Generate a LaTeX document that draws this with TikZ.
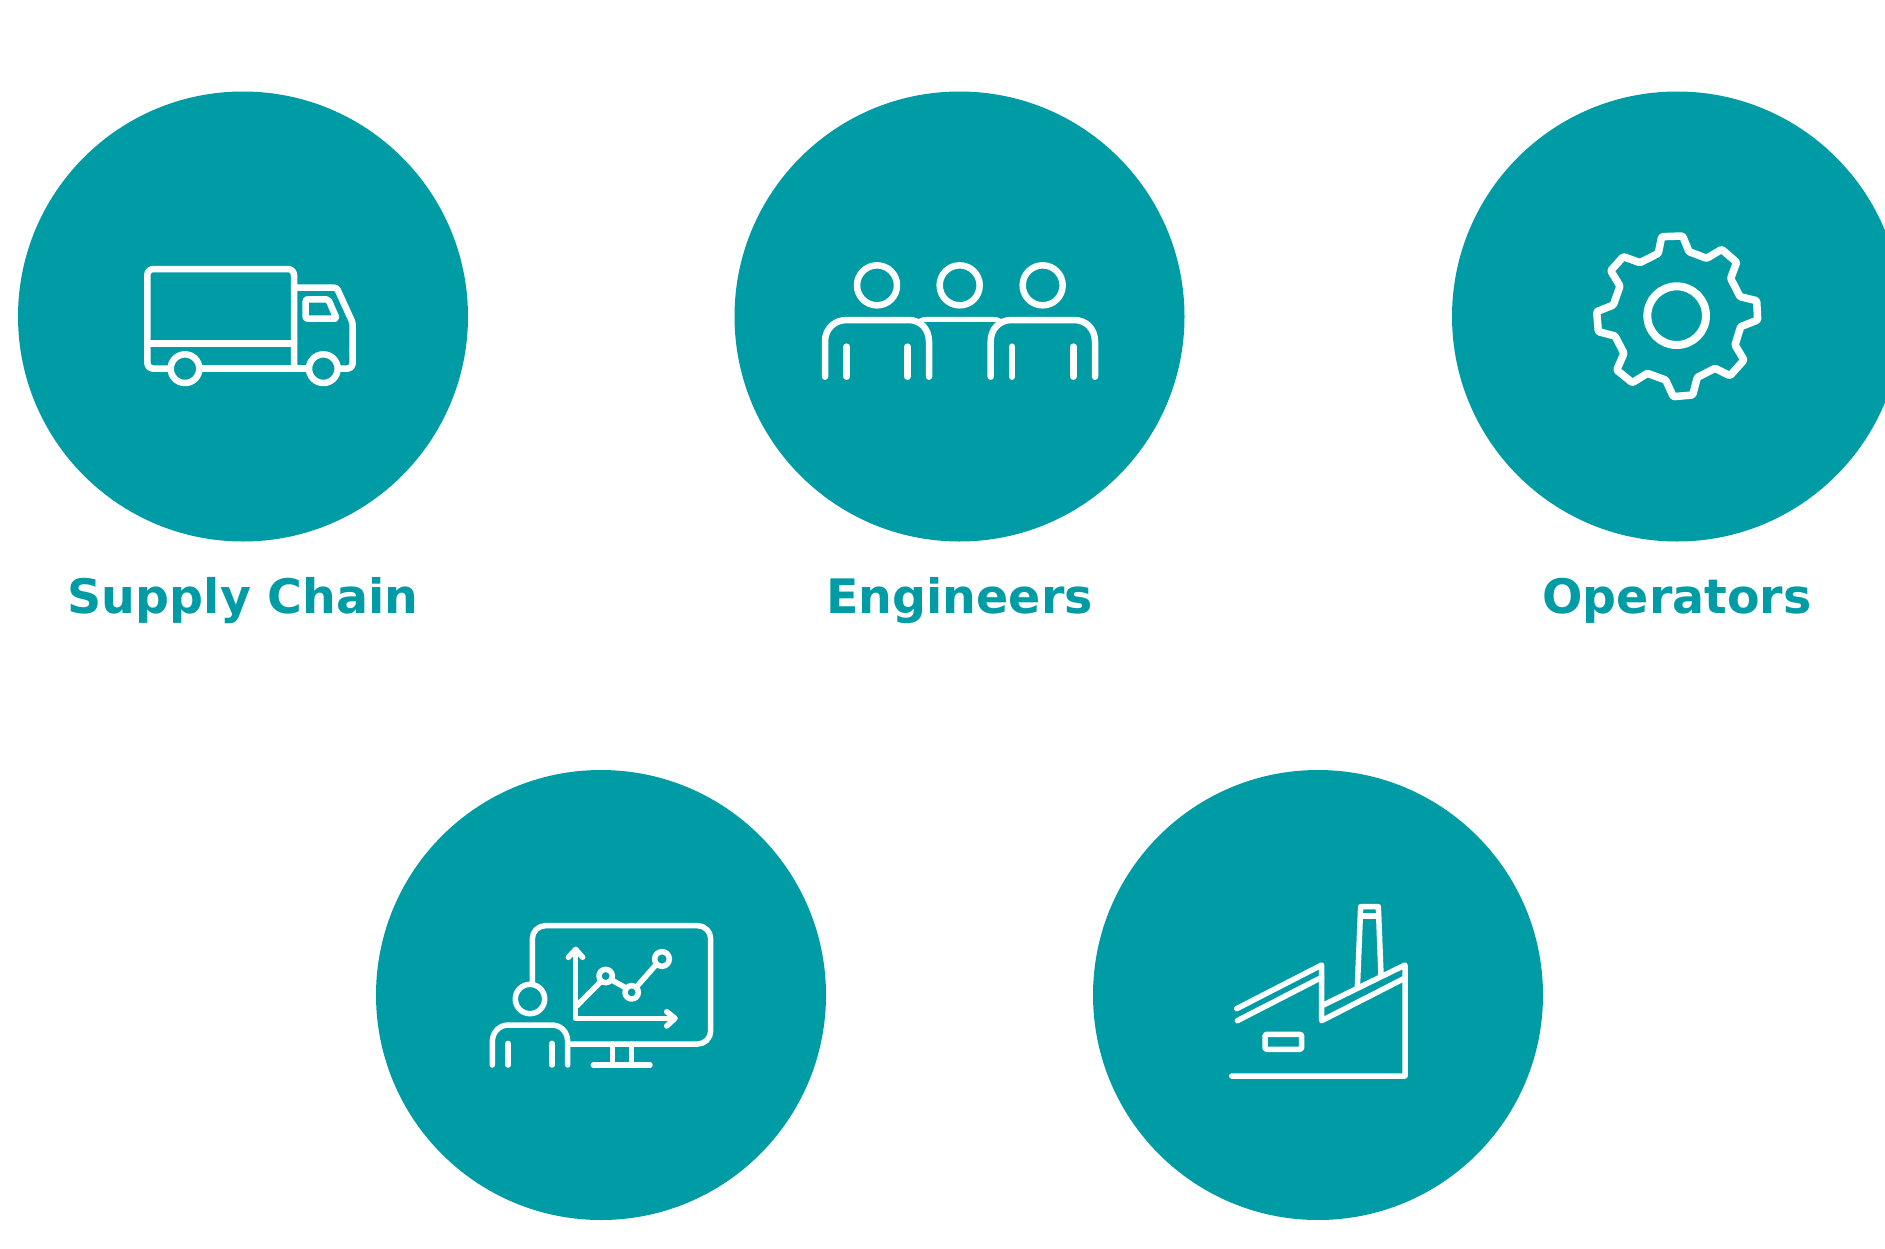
\documentclass[tikz,border=0pt]{standalone}
\usepackage{fontspec}
\setmainfont{DejaVu Sans}
\definecolor{teal1}{RGB}{0,156,166}
\tikzset{
  disc/.style={circle,fill=teal1,inner sep=0pt,minimum size=450pt},
  lab/.style={anchor=base,text=teal1,font=\fontsize{47.5}{50}\selectfont\bfseries},
  ico/.style={draw=white,line width=#1,line cap=round,line join=round},
  ico/.default=6.5pt
}
\begin{document}
\begin{tikzpicture}[x=1pt,y=-1pt]
\useasboundingbox (0,0) rectangle (1885,1248);
\clip (0,0) rectangle (1885,1248);
\fill[white] (0,0) rectangle (1885,1248);
\node[disc] (c1) at (243,316.5) {};
\node[disc] (c2) at (959.5,316.5) {};
\node[disc] (c3) at (1677,316.5) {};
\node[disc] (c4) at (601,995) {};
\node[disc] (c5) at (1318,995) {};
\node[lab] (t1) at (243,613) {Supply Chain};
\node[lab] (t2) at (959.5,613) {Engineers};
\node[lab] (t3) at (1677,613) {Operators};
% truck
\begin{scope}[shift={(120,240)},scale=1/3,ico]
\draw[rounded corners=6pt] (145,386) -- (82,386) -- (82,87) -- (522,87) -- (522,386);
\draw (82,310) -- (522,310);
\draw (245,386) -- (560,386);
\draw[rounded corners=2.5pt] (522,143) -- (650,143) -- (698,248) -- (698,330);
\draw[rounded corners=5pt] (698,330) -- (698,386) -- (660,386);
\draw[rounded corners=2pt] (557,178) -- (625,178) -- (650,236) -- (557,236) -- cycle;
\draw (195,386) circle[radius=43];
\draw (610,386) circle[radius=43];
\end{scope}
% engineers
\begin{scope}[shift={(800,240)},scale=1/3,ico]
\draw (231,136) circle[radius=60];
\draw (479,136) circle[radius=60];
\draw (728,136) circle[radius=60];
\draw (75,410) -- (75,305) .. controls (75,265) and (105,240) .. (140,240) -- (325,240) .. controls (360,240) and (387,265) .. (387,305) -- (387,410);
\draw (572,410) -- (572,305) .. controls (572,265) and (600,240) .. (635,240) -- (822,240) .. controls (857,240) and (885,265) .. (885,305) -- (885,410);
\draw (140,320) -- (140,410);
\draw (322,320) -- (322,410);
\draw (636,320) -- (636,410);
\draw (820,320) -- (820,410);
\draw[line width=5pt] (358,245) .. controls (368,238) and (375,238) .. (385,238) -- (575,238) .. controls (585,238) and (592,238) .. (602,245);
\end{scope}
% gear
\begin{scope}[shift={(1570,210)},scale=1/3,ico=7.5pt]
\draw[rounded corners=1.2pt] (275,80) -- (338,78) -- (357,125) -- (410,145) -- (455,118) -- (500,157) -- (482,205) -- (510,260) -- (560,272) -- (563,330) -- (512,350) -- (495,405) -- (522,450) -- (480,497) -- (435,475) -- (382,502) -- (368,555) -- (310,560) -- (287,510) -- (232,490) -- (187,518) -- (140,480) -- (162,430) -- (135,378) -- (85,365) -- (80,305) -- (130,285) -- (150,228) -- (122,182) -- (160,140) -- (210,158) -- (265,130) -- cycle;
\draw[line width=8pt] (320,317) circle[radius=88];
\end{scope}
% analyst
\begin{scope}[shift={(470,900)},scale=1/3,ico=5.5pt]
\draw (180,297) circle[radius=44];
\draw (67,495) -- (67,425) .. controls (67,395) and (90,375) .. (115,375) -- (245,375) .. controls (272,375) and (293,395) .. (293,425) -- (293,495);
\draw (114,430) -- (114,495);
\draw (246,430) -- (246,495);
\draw[rounded corners=13pt] (187,250) -- (187,77) -- (722,77) -- (722,432) -- (300,432);
\draw (428,432) -- (428,495);
\draw (485,432) -- (485,495);
\draw (370,495) -- (540,495);
\draw (317,150) -- (317,355) -- (612,355);
\draw (295,172) -- (317,148) -- (338,172);
\draw (590,335) -- (615,355) -- (590,378);
\draw (320,318) -- (392,245);
\draw (407,228) circle[radius=20];
\draw (425,240) -- (470,265);
\draw (485,277) circle[radius=20];
\draw (500,260) -- (560,192);
\draw (576,177) circle[radius=22];
\end{scope}
% factory
\begin{scope}[shift={(1210,890)},scale=1/3,ico=5.5pt]
\draw (80,356) -- (335,225) -- (335,392) -- (583,265);
\draw (82,392) -- (335,262);
\draw (340,345) -- (585,225) -- (585,558) -- (65,558);
\draw[rounded corners=2pt] (165,433) rectangle (275,478);
\draw (442,295) -- (452,50) -- (505,50) -- (513,255);
\draw (452,78) -- (505,78);
\end{scope}
\end{tikzpicture}
\end{document}
